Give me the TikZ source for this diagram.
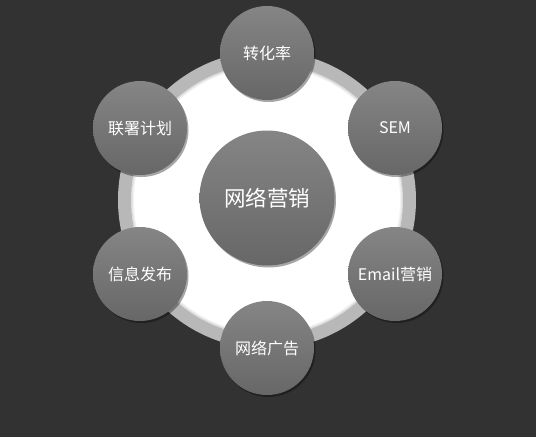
\documentclass[tikz,border=0pt]{standalone}
\usepackage{fontspec}
\newfontfamily\cjk{Noto Sans CJK SC}
\usetikzlibrary{shadows}
\definecolor{bgc}{HTML}{323232}
\definecolor{ringc}{HTML}{B8B8B8}
\definecolor{ctop}{HTML}{858585}
\definecolor{cbot}{HTML}{676767}
\tikzset{
  ball/.style={circle, minimum size=94pt, inner sep=0pt, top color=ctop, bottom color=cbot,
    text=white, font=\cjk\fontsize{16}{18}\selectfont,
    drop shadow={shadow xshift=1.5pt, shadow yshift=-2pt, opacity=0.35, fill=black}},
  hub/.style={ball, minimum size=135pt, font=\cjk\fontsize{21.5}{24}\selectfont}
}
\begin{document}
\begin{tikzpicture}[x=1pt,y=-1pt]
\fill[bgc] (0,0) rectangle (536,437);
\useasboundingbox (0,0) rectangle (536,437);
% ring
\fill[ringc] (267,200) circle (149);
\fill[white] (267,200) circle (136);
\foreach \r/\o in {135.5/0.14,134.5/0.08,133.5/0.04}
  \draw[black, opacity=\o, line width=1pt] (267,200) circle (\r);
% hub
\node[hub] (c) at (267,198) {网络营销};
% satellites
\node[ball] (t)  at (267,53)  {转化率};
\node[ball] (tr) at (395,128) {SEM};
\node[ball] (br) at (395,274) {Email营销};
\node[ball] (b)  at (267,348) {网络广告};
\node[ball] (bl) at (140,274) {信息发布};
\node[ball] (tl) at (140,128) {联署计划};
\end{tikzpicture}
\end{document}
